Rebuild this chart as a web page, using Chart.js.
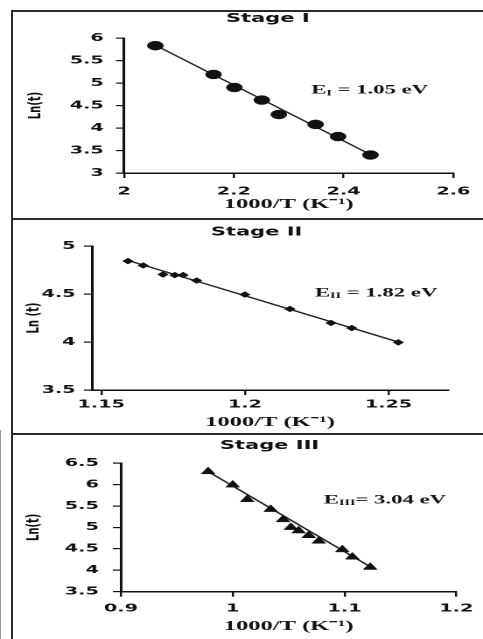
<!DOCTYPE html>
<html>
<head>
<meta charset="utf-8">
<script src="https://cdn.jsdelivr.net/npm/chart.js@4.4.1/dist/chart.umd.min.js"></script>
<style>
  html, body { margin: 0; padding: 0; background: #fff; }
  #fig { position: relative; width: 483px; height: 639px; overflow: hidden; background: #fff; }
  /* the scanned figure is stretched sideways, so every panel is too */
  .panel { position: absolute; left: 0; transform: scaleX(1.75); transform-origin: 0 0; }
  .rule { position: absolute; background: #2b2b2b; }
</style>
</head>
<body>
<div id="fig">
  <canvas id="c1" class="panel" width="276" height="208" style="top:11px"></canvas>
  <canvas id="c2" class="panel" width="276" height="215" style="top:219px"></canvas>
  <canvas id="c3" class="panel" width="276" height="205" style="top:434px"></canvas>
  <div class="rule" style="left:12px; top:10px; width:471px; height:2px"></div>
  <div class="rule" style="left:11px; top:10px; width:2px; height:629px"></div>
  <div class="rule" style="left:12px; top:218px; width:471px; height:2px"></div>
  <div class="rule" style="left:12px; top:433px; width:471px; height:2px"></div>
  <div class="rule" style="left:0px; top:430px; width:1px; height:209px; background:#999"></div>
</div>
<script>
// stage I
var stage1X = [2.057, 2.163, 2.201, 2.251, 2.282, 2.349, 2.390, 2.449];
var stage1Y = [5.83, 5.19, 4.90, 4.62, 4.30, 4.08, 3.81, 3.40];
var stage1FitX = [2.057, 2.449];
var stage1FitY = [5.84, 3.41];

// stage II
var stage2X = [1.1593, 1.1646, 1.1715, 1.1756, 1.1785, 1.1832, 1.2000, 1.2157, 1.2300, 1.2372, 1.2534];
var stage2Y = [4.843, 4.797, 4.703, 4.697, 4.697, 4.640, 4.494, 4.344, 4.198, 4.145, 3.996];
var stage2FitX = [1.1593, 1.2534];
var stage2FitY = [4.85, 4.0];

// stage III
var stage3X = [0.978, 1.000, 1.013, 1.034, 1.045, 1.052, 1.059, 1.068, 1.077, 1.098, 1.107, 1.123];
var stage3Y = [6.30, 5.99, 5.65, 5.42, 5.18, 5.00, 4.92, 4.81, 4.68, 4.48, 4.31, 4.07];
var stage3FitX = [0.978, 1.125];
var stage3FitY = [6.30, 4.05];

// tick labels
var xTicks1 = [2, 2.2, 2.4, 2.6];
var yTicks1 = [3, 3.5, 4, 4.5, 5, 5.5, 6];
var xTicks2 = [1.15, 1.2, 1.25];
var yTicks2 = [3.5, 4, 4.5, 5];
var xTicks3 = [0.9, 1, 1.1, 1.2];
var yTicks3 = [3.5, 4, 4.5, 5, 5.5, 6, 6.5];

function pts(xs, ys) {
    return xs.map(function(x, i) { return {x: x, y: ys[i]}; });
}

// title + activation energy, drawn on the canvas
var panelText = {
    id: 'panelText',
    afterDatasetsDraw: function(chart, args, o) {
        var ctx = chart.ctx;
        ctx.save();
        ctx.fillStyle = '#111';
        ctx.font = 'bold 12px "DejaVu Sans"';
        ctx.textAlign = 'center';
        ctx.textBaseline = 'middle';
        ctx.fillText(o.title, o.titleX, o.titleY);

        var px = chart.scales.x.getPixelForValue(o.eAt[0]);
        var py = chart.scales.y.getPixelForValue(o.eAt[1]);
        ctx.textAlign = 'left';
        ctx.font = 'bold 13px "Liberation Serif"';
        ctx.fillText('E', px, py);
        px += ctx.measureText('E').width;
        ctx.font = 'bold 8px "Liberation Serif"';
        ctx.fillText(o.sub, px, py + 3);
        px += ctx.measureText(o.sub).width;
        ctx.font = 'bold 13px "Liberation Serif"';
        ctx.fillText(o.rest, px, py);
        ctx.restore();
    }
};

var tickFont = {family: 'DejaVu Sans', size: 11, weight: 'bold'};

function makeChart(id, p) {
    return new Chart(document.getElementById(id), {
        type: 'scatter',
        data: {
            datasets: [{
                data: pts(p.xs, p.ys),
                pointStyle: p.marker,
                pointRadius: p.radius,
                pointBackgroundColor: '#111',
                pointBorderColor: '#111',
                pointBorderWidth: 0.5
            }, {
                data: pts(p.fitX, p.fitY),
                showLine: true,
                pointRadius: 0,
                borderColor: '#222',
                borderWidth: 1.3
            }]
        },
        options: {
            responsive: false,
            animation: false,
            devicePixelRatio: 2,
            events: [],
            layout: {padding: p.pad},
            plugins: {
                legend: {display: false},
                tooltip: {enabled: false},
                panelText: p.text
            },
            scales: {
                x: {
                    type: 'linear',
                    min: p.xMin, max: p.xMax,
                    afterFit: function(s) { s.height = p.xHeight; },
                    afterBuildTicks: function(s) { s.ticks = p.xTicks.map(function(v) { return {value: v}; }); },
                    ticks: {
                        font: tickFont, color: '#111', padding: p.xTickPad,
                        callback: function(v) { return String(+v.toFixed(2)); }
                    },
                    grid: {drawOnChartArea: false, drawTicks: true, tickLength: 5, color: '#111', lineWidth: 1.2},
                    border: {display: true, color: '#111', width: 1.5},
                    title: {
                        display: true, text: '1000/T (K\u207B\u00B9)', color: '#111', padding: 0,
                        font: {family: 'Liberation Serif', size: 14, weight: 'bold'}
                    }
                },
                y: {
                    type: 'linear',
                    min: p.yTicks[0], max: p.yTicks[p.yTicks.length - 1],
                    afterFit: function(s) { s.width = p.yWidth; },
                    afterBuildTicks: function(s) { s.ticks = p.yTicks.map(function(v) { return {value: v}; }); },
                    ticks: {
                        font: tickFont, color: '#111', padding: p.yTickPad,
                        callback: function(v) { return String(+v.toFixed(2)); }
                    },
                    grid: {drawOnChartArea: false, drawTicks: true, tickLength: 4.6, color: '#111', lineWidth: 1.2},
                    border: {display: true, color: '#111', width: 1.5},
                    title: {
                        display: true, text: p.yTitle, color: '#111', padding: 0,
                        font: {family: 'DejaVu Sans', size: 10, weight: 'bold'}
                    }
                }
            }
        },
        plugins: [panelText]
    });
}

makeChart('c1', {
    xs: stage1X, ys: stage1Y, fitX: stage1FitX, fitY: stage1FitY,
    marker: 'circle', radius: 4.5,
    xMin: 2, xMax: 2.6, xTicks: xTicks1, yTicks: yTicks1,
    yTitle: 'Ln(t)',
    pad: {left: 14.4, right: 13.1, top: 27, bottom: 6},
    yWidth: 56.5, xHeight: 40, xTickPad: 7.2, yTickPad: 7,
    text: {title: 'Stage I', titleX: 153, titleY: 8, eAt: [2.341, 4.84], sub: 'I', rest: ' = 1.05 eV'}
});

makeChart('c2', {
    xs: stage2X, ys: stage2Y, fitX: stage2FitX, fitY: stage2FitY,
    marker: 'rectRot', radius: 3,
    xMin: 1.1468, xMax: 1.2707, xTicks: xTicks2, yTicks: yTicks2,
    yTitle: 'Ln (t)',
    pad: {left: 13.4, right: 20, top: 27, bottom: 3},
    yWidth: 39.2, xHeight: 41, xTickPad: 3.2, yTickPad: 4.8,
    text: {title: 'Stage II', titleX: 146.6, titleY: 13.5, eAt: [1.2244, 4.51], sub: 'II', rest: ' = 1.82 eV'}
});

makeChart('c3', {
    xs: stage3X, ys: stage3Y, fitX: stage3FitX, fitY: stage3FitY,
    marker: 'triangle', radius: 4.5,
    xMin: 0.9, xMax: 1.2, xTicks: xTicks3, yTicks: yTicks3,
    yTitle: 'Ln(t)',
    pad: {left: 13.4, right: 14.1, top: 29, bottom: 4},
    yWidth: 55.7, xHeight: 43.3, xTickPad: 5.5, yTickPad: 8,
    text: {title: 'Stage III', titleX: 154, titleY: 12, eAt: [1.0815, 5.64], sub: 'III', rest: '= 3.04 eV'}
});
</script>
</body>
</html>
